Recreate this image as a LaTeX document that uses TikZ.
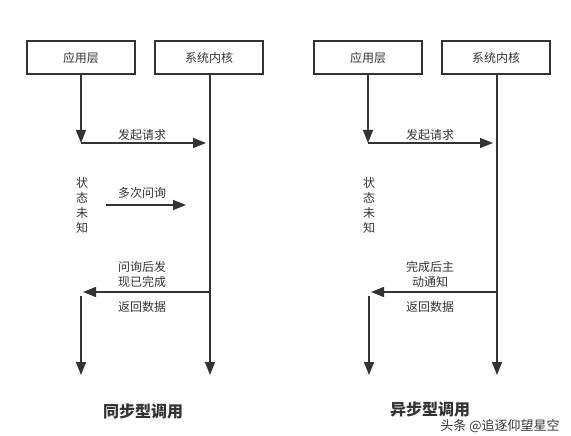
\documentclass[tikz,border=0pt]{standalone}
\usepackage{fontspec}
\setmainfont{Noto Sans CJK SC}
\usetikzlibrary{arrows.meta}
\definecolor{ink}{HTML}{333333}
\tikzset{
  layer/.style={draw=ink, line width=1.6pt, minimum width=108pt, minimum height=33pt, font=\fontsize{12}{14}\selectfont, text=ink},
  lbl/.style={font=\fontsize{12}{15}\selectfont, text=ink, align=center},
  flow/.style={draw=ink, line width=1.5pt, -{Triangle[length=13pt,width=10pt]}},
  title/.style={font=\fontsize{16}{18}\selectfont\bfseries, text=ink}
}
\begin{document}
\begin{tikzpicture}[x=1pt, y=-1pt]
    \useasboundingbox (0,0) rectangle (571,436);
    % Synchronous call
    \node[layer] (app1) at (81,57.5) {应用层};
    \node[layer] (ker1) at (209,57.5) {系统内核};
    \coordinate (a1) at (81,143);
    \coordinate (k1) at (210,143);
    \coordinate (k2) at (210,292);
    \coordinate (a2) at (81,292);
    \coordinate (a3) at (81,296);
    \coordinate (a4) at (81,375);
    \coordinate (k3) at (210,375);
    \coordinate (p1) at (106,205);
    \coordinate (p2) at (186,205);
    \draw[flow] (app1.south) -- (a1);
    \draw[flow, shorten >=4pt] (a1) -- (k1);
    \draw[flow] (ker1.south -| k1) -- (k3);
    \draw[flow] (p1) -- (p2);
    \draw[flow, shorten >=2pt] (k2) -- (a2);
    \draw[flow] (a3) -- (a4);
    \node[lbl] (req1) at (142,135) {发起请求};
    \node[lbl] (st1) at (82,205) {状\\态\\未\\知};
    \node[lbl] (poll1) at (142,193) {多次问询};
    \node[lbl] (done1) at (142,274.5) {问询后发\\现已完成};
    \node[lbl] (ret1) at (142,307) {返回数据};
    \node[title] (t1) at (143,411) {同步型调用};
    % Asynchronous call
    \node[layer] (app2) at (368,57.5) {应用层};
    \node[layer] (ker2) at (496,57.5) {系统内核};
    \coordinate (b1) at (368,143);
    \coordinate (m1) at (497,143);
    \coordinate (m2) at (497,292);
    \coordinate (b2) at (369,292);
    \coordinate (b3) at (369,296);
    \coordinate (b4) at (369,375);
    \coordinate (m3) at (497,375);
    \draw[flow] (app2.south) -- (b1);
    \draw[flow, shorten >=4pt] (b1) -- (m1);
    \draw[flow] (ker2.south -| m1) -- (m3);
    \draw[flow, shorten >=2pt] (m2) -- (b2);
    \draw[flow] (b3) -- (b4);
    \node[lbl] (req2) at (430,135) {发起请求};
    \node[lbl] (st2) at (369,205) {状\\态\\未\\知};
    \node[lbl] (done2) at (430,274.5) {完成后主\\动通知};
    \node[lbl] (ret2) at (430,307) {返回数据};
    \node[title] (t2) at (430,409) {异步型调用};
    \node[font=\fontsize{13}{15}\selectfont, text=ink] (mark) at (500,426) {头条 @追逐仰望星空};
\end{tikzpicture}
\end{document}
